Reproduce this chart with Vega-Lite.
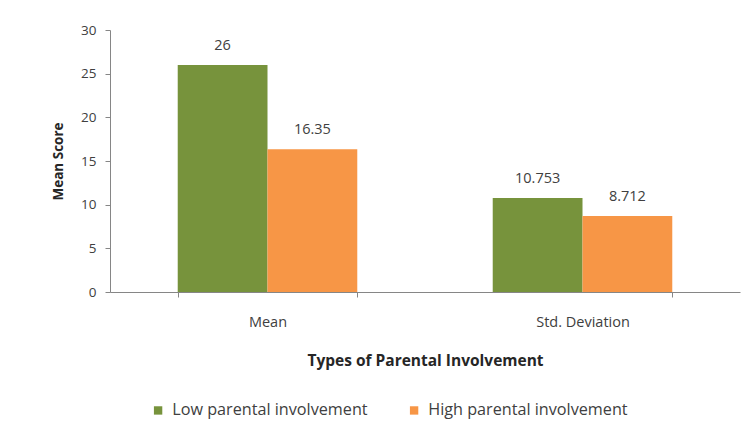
{
  "$schema": "https://vega.github.io/schema/vega-lite/v6.json",
  "autosize": "none",
  "width": 630,
  "height": 262,
  "padding": {"left": 110, "top": 30, "right": 8, "bottom": 140},
  "background": "white",
  "config": {
    "view": {"stroke": null},
    "font": "Open Sans",
    "axis": {"labelFont": "Open Sans", "titleFont": "Open Sans", "labelColor": "#404040", "titleColor": "#262626", "domainColor": "#868686", "tickColor": "#868686", "grid": false, "labelFontSize": 13.5, "titleFontSize": 13.5, "titleFontWeight": "bold"},
    "legend": {"labelFont": "Open Sans", "labelFontSize": 16.2, "labelColor": "#404040", "labelLimit": 400}
  },
  "data": {
    "values": [
      {"stat": "Mean", "group": "Low parental involvement", "value": 26, "label": "26"},
      {"stat": "Mean", "group": "High parental involvement", "value": 16.35, "label": "16.35"},
      {"stat": "Std. Deviation", "group": "Low parental involvement", "value": 10.753, "label": "10.753"},
      {"stat": "Std. Deviation", "group": "High parental involvement", "value": 8.712, "label": "8.712"}
    ]
  },
  "encoding": {
    "x": {
      "field": "stat", "type": "nominal", "sort": ["Mean", "Std. Deviation"],
      "scale": {"paddingInner": 0.43, "paddingOuter": 0.215},
      "axis": {"title": "Types of Parental Involvement", "labelAngle": 0, "labelFontSize": 14.5, "titleFontSize": 15.5, "tickBand": "extent", "tickSize": 5, "labelPadding": 18, "titlePadding": 25}
    },
    "xOffset": {"field": "group", "type": "nominal", "sort": ["Low parental involvement", "High parental involvement"]},
    "y": {
      "field": "value", "type": "quantitative",
      "scale": {"domain": [0, 30]},
      "axis": {"title": "Mean Score", "values": [0, 5, 10, 15, 20, 25, 30], "tickSize": 5, "labelPadding": 9, "titlePadding": 15}
    }
  },
  "layer": [
    {
      "mark": {"type": "bar"},
      "encoding": {
        "color": {
          "field": "group", "type": "nominal",
          "sort": ["Low parental involvement", "High parental involvement"],
          "scale": {"domain": ["Low parental involvement", "High parental involvement"], "range": ["#77933C", "#F79646"]},
          "legend": {"title": null, "orient": "none", "direction": "horizontal", "legendX": 40, "legendY": 372, "symbolType": "square", "symbolSize": 70, "columnPadding": 38, "labelOffset": 6}
        }
      }
    },
    {
      "mark": {"type": "text", "dy": -19, "fontSize": 14.5, "color": "#404040", "font": "Open Sans"},
      "encoding": {"text": {"field": "label"}}
    }
  ]
}
